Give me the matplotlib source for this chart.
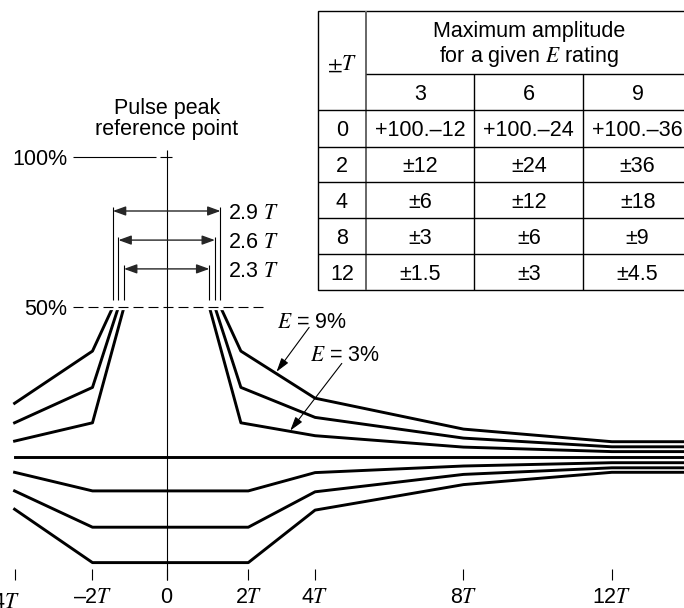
import matplotlib
matplotlib.use('Agg')
import matplotlib.pyplot as plt

plt.rcParams['font.family'] = ['Liberation Sans', 'DejaVu Sans']
plt.rcParams['mathtext.fontset'] = 'stix'
plt.rcParams['lines.scale_dashes'] = False

# envelope: time in T, amplitude in %
e_ratings = [9, 6, 3]
half_width = [1.45, 1.3, 1.15]          # half of 2.9T, 2.6T, 2.3T at 50 %
width_labels = ['2.9 $T$', '2.6 $T$', '2.3 $T$']

up_left_t = [-4.1, -2]
up_left = [[17.9, 35.3], [11.4, 23.2], [5.3, 11.4]]
up_right_t = [2, 4, 8, 12, 14]
up_right = [[35.3, 19.6, 9.3, 5.1, 5.1],
            [23.2, 13.2, 6.3, 3.4, 3.4],
            [11.4, 7.1, 3.3, 1.8, 1.8]]
low_t = [-4.1, -2, 2.2, 4, 8, 12, 14]
low = [[-17.4, -35.2, -35.2, -17.7, -9.2, -5.1, -5.1],
       [-11.3, -23.4, -23.4, -11.6, -5.8, -3.6, -3.6],
       [-5.1, -11.3, -11.3, -5.2, -3.0, -1.9, -1.9]]
base_t = [-4.1, 14]

tick_at = [-4.1, -2, 0, 2.2, 4, 8, 12]
tick_labels = ['–4$T$', '–2$T$', '0', '2$T$', '4$T$', '8$T$', '12$T$']

# table
col_head = ['3', '6', '9']
row_t = ['0', '2', '4', '8', '12']
cells = [['+100.–12', '+100.–24', '+100.–36'],
         ['±12', '±24', '±36'],
         ['±6', '±12', '±18'],
         ['±3', '±6', '±9'],
         ['±1.5', '±3', '±4.5']]

fs = 15.5
lw_env = 2.1

fig = plt.figure(figsize=(6.84, 6.08), dpi=100)
ax = fig.add_axes([0, 0, 1, 1])
ax.set_xlim(-4.493, 13.944)
ax.set_ylim(-50.33, 152.33)
ax.patch.set_alpha(0)
for s in ['top', 'left', 'right']:
    ax.spines[s].set_visible(False)
ax.spines['bottom'].set_position(('data', -41))
ax.spines['bottom'].set_visible(False)
ax.tick_params(left=False, labelleft=False, direction='in', length=8,
               width=0.8, pad=5, labelsize=fs)
ax.set_xticks(tick_at)
# the first label sits left of its tick in the picture, drawn by hand below
ax.set_xticklabels([''] + tick_labels[1:])
ax.text(-3.95, -47.6, tick_labels[0], ha='right', va='center_baseline', fontsize=fs)

# envelopes
for i in range(3):
    ax.plot(up_left_t + [-half_width[i]], up_left[i] + [50], color='black', lw=lw_env, zorder=2)
    ax.plot([half_width[i]] + up_right_t, [50] + up_right[i], color='black', lw=lw_env, zorder=2)
    ax.plot(low_t, low[i], color='black', lw=lw_env, zorder=2)
ax.plot(base_t, [0, 0], color='black', lw=lw_env, zorder=2)

# reference lines
ax.vlines(0, -41, 102.3, color='black', lw=0.8)
ax.hlines(100, -2.53, -0.29, color='black', lw=0.8)
ax.hlines(100, -0.18, 0.13, color='black', lw=0.8)
ax.text(-2.68, 100, '100%', ha='right', va='center_baseline', fontsize=fs)
ax.text(-2.68, 50, '50%', ha='right', va='center_baseline', fontsize=fs)
ax.hlines(50, -1.65, -0.95, color='white', lw=4.5, zorder=3)
ax.hlines(50, 0.95, 1.65, color='white', lw=4.5, zorder=3)
ax.plot([-2.53, 2.6], [50, 50], color='black', lw=0.8, dashes=(7.2, 3.6), zorder=4)
ax.text(0, 112.7, 'Pulse peak\nreference point', ha='center', va='center',
        fontsize=fs, linespacing=1.0)

# pulse width dimensions
dim_y = [82, 72.3, 62.7]
ext_top = [83.3, 73.3, 64]
for i in range(3):
    hw = half_width[i]
    ax.vlines([-hw, hw], 52.3, ext_top[i], color='black', lw=0.8)
    ax.annotate('', xy=(hw, dim_y[i]), xytext=(-hw, dim_y[i]),
                arrowprops=dict(arrowstyle='<|-|>,head_length=0.55,head_width=0.2',
                                color='0.15', lw=1.0, shrinkA=0, shrinkB=0,
                                mutation_scale=14))
    ax.text(1.66, dim_y[i], width_labels[i], ha='left', va='center_baseline', fontsize=fs)

# E labels
ax.text(2.96, 45.7, '$E$ = %d%%' % e_ratings[0], ha='left', va='center_baseline', fontsize=fs)
ax.text(3.85, 34.6, '$E$ = %d%%' % e_ratings[2], ha='left', va='center_baseline', fontsize=fs)
ax.annotate('', xy=(2.96, 28.4), xytext=(3.84, 43.2),
            arrowprops=dict(arrowstyle='-|>,head_length=0.6,head_width=0.18',
                            color='black', lw=0.8, shrinkA=0, shrinkB=0, mutation_scale=14))
ax.annotate('', xy=(3.33, 8.8), xytext=(4.72, 31.2),
            arrowprops=dict(arrowstyle='-|>,head_length=0.6,head_width=0.18',
                            color='black', lw=0.8, shrinkA=0, shrinkB=0, mutation_scale=14))

# table, drawn in pixel coordinates
tab = fig.add_axes([0, 0, 1, 1], zorder=5)
tab.set_xlim(0, 684)
tab.set_ylim(608, 0)
tab.axis('off')
left, right, top, bottom = 318.3, 692, 10.7, 290
xs = [318.3, 365.7, 474.3, 583.3, 692]
ys = [110, 146.7, 182.3, 218.3, 254, 290]
tab.add_patch(plt.Rectangle((left, top), right - left, bottom - top,
                            facecolor='white', edgecolor='black', lw=1.0))
tab.vlines(xs[1], top, bottom, color='0.4', lw=1.4)
tab.vlines(xs[2:4], 74, bottom, color='black', lw=1.0)
tab.hlines(74, xs[1], right, color='black', lw=1.0)
tab.hlines(ys[:-1], left, right, color='black', lw=1.0)
tab.text((xs[0] + xs[1]) / 2, 62, r'$\pm T$', ha='center', va='center_baseline', fontsize=fs)
tab.text((xs[1] + right) / 2, 37.3, 'Maximum amplitude', ha='center', va='baseline', fontsize=fs)
tab.text((xs[1] + right) / 2, 61.7, 'for a given $E$ rating', ha='center', va='baseline', fontsize=fs)
for j, h in enumerate(col_head):
    tab.text((xs[j + 1] + xs[j + 2]) / 2, 92, h, ha='center', va='center_baseline', fontsize=fs)
for r in range(len(row_t)):
    yc = (ys[r] + ys[r + 1]) / 2
    tab.text((xs[0] + xs[1]) / 2, yc, row_t[r], ha='center', va='center_baseline', fontsize=fs)
    for j in range(3):
        tab.text((xs[j + 1] + xs[j + 2]) / 2, yc, cells[r][j], ha='center',
                 va='center_baseline', fontsize=fs)

fig.savefig('out.png', dpi=100, facecolor='white')
